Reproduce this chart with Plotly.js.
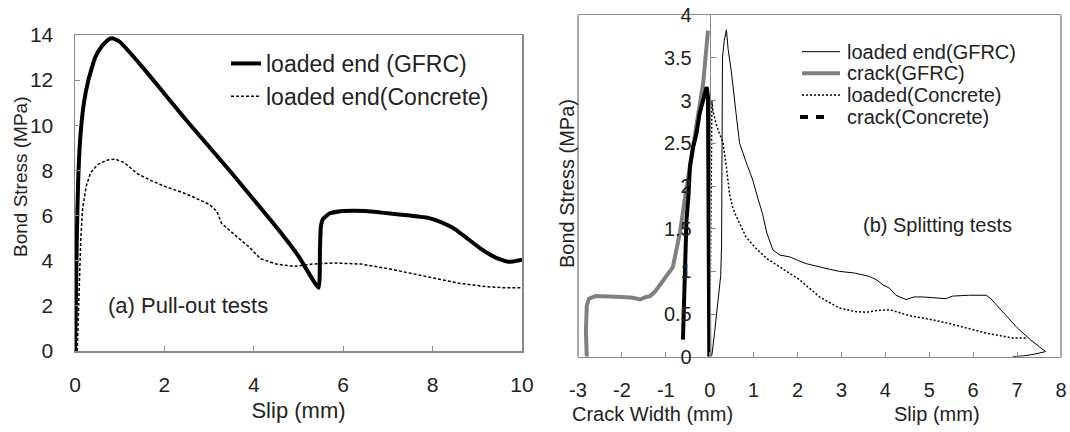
<!DOCTYPE html>
<html>
<head>
<meta charset="utf-8">
<script src="https://cdn.plot.ly/plotly-3.0.1.min.js"></script>
<style>html,body{margin:0;padding:0;background:#fff;}#chart{width:1070px;height:432px;}</style>
</head>
<body>
<div id="chart"></div>
<script>
// ---------- (a) Pull-out tests ----------
const pulloutGFRC_x = [0, 0.02, 0.04, 0.07, 0.12, 0.2, 0.3, 0.45, 0.6, 0.75, 0.85, 1.0, 1.5, 2.0, 2.5, 3.0, 3.5, 4.0, 4.5, 5.0, 5.45, 5.48, 5.5, 5.55, 5.7, 6.0, 6.5, 7.0, 7.5, 7.9, 8.2, 8.5, 8.8, 9.1, 9.4, 9.7, 10.0];
const pulloutGFRC_y = [0, 2, 5, 7.5, 9.5, 11, 12, 13, 13.5, 13.8, 13.85, 13.7, 12.6, 11.4, 10.2, 9.05, 7.9, 6.7, 5.5, 4.2, 2.8, 4.5, 5.5, 5.85, 6.1, 6.2, 6.2, 6.1, 6.0, 5.9, 5.7, 5.4, 4.95, 4.5, 4.15, 3.95, 4.05];

const pulloutConc_x = [0.05, 0.07, 0.1, 0.13, 0.17, 0.25, 0.35, 0.5, 0.7, 0.9, 1.1, 1.4, 1.7, 2.0, 2.5, 2.8, 3.0, 3.17, 3.28, 3.6, 3.9, 4.14, 4.5, 4.9, 5.3, 5.8, 6.4, 7.0, 7.5, 8.0, 8.6, 9.2, 9.6, 10.0];
const pulloutConc_y = [0, 1.5, 3, 5, 6.3, 7.3, 7.9, 8.25, 8.45, 8.5, 8.35, 7.85, 7.55, 7.3, 6.95, 6.7, 6.5, 6.2, 5.65, 5.1, 4.6, 4.1, 3.85, 3.75, 3.85, 3.9, 3.85, 3.65, 3.45, 3.25, 3.0, 2.85, 2.8, 2.8];

// ---------- (b) Splitting tests ----------
const splitLoadedGFRC_x = [0, 0.05, 0.11, 0.2, 0.25, 0.27, 0.28, 0.29, 0.33, 0.38, 0.42, 0.49, 0.6, 0.68, 0.85, 0.98, 1.1, 1.2, 1.3, 1.44, 1.6, 1.82, 2.0, 2.2, 2.6, 2.95, 3.3, 3.64, 3.8, 3.95, 4.1, 4.24, 4.47, 4.65, 4.84, 5.1, 5.38, 5.53, 5.9, 6.3, 6.4, 6.7, 7.0, 7.3, 7.65, 7.4, 7.15, 6.9];
const splitLoadedGFRC_y = [0, 0.02, 0.28, 0.7, 0.95, 1.3, 2.5, 3.5, 3.7, 3.83, 3.6, 3.35, 2.85, 2.5, 2.25, 2.07, 1.85, 1.68, 1.45, 1.25, 1.19, 1.17, 1.13, 1.09, 1.04, 1.0, 0.98, 0.94, 0.9, 0.84, 0.8, 0.72, 0.67, 0.7, 0.7, 0.69, 0.68, 0.71, 0.72, 0.72, 0.68, 0.51, 0.34, 0.2, 0.06, 0.03, 0.01, 0];

const splitCrackGFRC_x = [-2.8, -2.82, -2.8, -2.75, -2.6, -2.3, -2.0, -1.75, -1.59, -1.45, -1.36, -1.25, -1.14, -1.0, -0.84, -0.76, -0.68, -0.57, -0.48, -0.38, -0.26, -0.15, -0.04];
const splitCrackGFRC_y = [0, 0.3, 0.6, 0.68, 0.71, 0.71, 0.70, 0.69, 0.67, 0.7, 0.71, 0.76, 0.84, 0.94, 1.05, 1.25, 1.45, 1.84, 2.15, 2.5, 2.85, 3.2, 3.82];

const splitLoadedConc_x = [0, 0.02, 0.05, 0.07, 0.15, 0.23, 0.3, 0.38, 0.45, 0.52, 0.6, 0.83, 1.05, 1.3, 1.6, 2.05, 2.5, 2.95, 3.3, 3.56, 3.8, 4.1, 4.3, 4.55, 5.0, 5.45, 5.9, 6.36, 6.9, 7.2];
const splitLoadedConc_y = [0, 1.5, 3.0, 2.89, 2.72, 2.6, 2.52, 2.22, 1.91, 1.75, 1.65, 1.4, 1.27, 1.15, 1.05, 0.9, 0.7, 0.57, 0.53, 0.52, 0.54, 0.55, 0.52, 0.48, 0.44, 0.39, 0.33, 0.27, 0.22, 0.22];

const splitCrackConc_x = [-0.61, -0.58, -0.53, -0.49, -0.45, -0.38, -0.3, -0.23, -0.15, -0.07, -0.04, -0.03, -0.02, -0.01];
const splitCrackConc_y = [0.2, 0.9, 1.6, 1.84, 2.23, 2.45, 2.62, 2.85, 3.0, 3.16, 3.05, 2.0, 1.0, 0];

// ---------- labels ----------
const leftNames = ['loaded end (GFRC)', 'loaded end(Concrete)'];
const rightNames = ['loaded end(GFRC)', 'crack(GFRC)', 'loaded(Concrete)', 'crack(Concrete)'];
const rightXTickVals = [-3, -2, -1, 0, 1, 2, 3, 4, 5, 6, 7, 8];
const rightXTickText = ['-3', '-2', '-1', '0', '1', '2', '3', '4', '5', '6', '7', '8'];

const W = 1070, H = 432;
const px = v => v / W;
const py = v => 1 - v / H;
const AX = '#8a8a8a';
const TXT = '#222';
const FONT = 'Liberation Sans, Arial, sans-serif';

const traces = [
  {x: pulloutGFRC_x, y: pulloutGFRC_y, xaxis: 'x', yaxis: 'y', mode: 'lines', name: leftNames[0],
   line: {color: '#000', width: 4, shape: 'spline', smoothing: 0.4}, legend: 'legend'},
  {x: pulloutConc_x, y: pulloutConc_y, xaxis: 'x', yaxis: 'y', mode: 'lines', name: leftNames[1],
   line: {color: '#000', width: 1.5, dash: '3px,2px'}, legend: 'legend'},
  {x: splitLoadedGFRC_x, y: splitLoadedGFRC_y, xaxis: 'x2', yaxis: 'y2', mode: 'lines', name: rightNames[0],
   line: {color: '#000', width: 1}, showlegend: false},
  {x: splitCrackGFRC_x, y: splitCrackGFRC_y, xaxis: 'x2', yaxis: 'y2', mode: 'lines', name: rightNames[1],
   line: {color: '#808080', width: 4}, showlegend: false},
  {x: splitLoadedConc_x, y: splitLoadedConc_y, xaxis: 'x2', yaxis: 'y2', mode: 'lines', name: rightNames[2],
   line: {color: '#000', width: 1.5, dash: '2px,2px'}, showlegend: false},
  {x: splitCrackConc_x, y: splitCrackConc_y, xaxis: 'x2', yaxis: 'y2', mode: 'lines', name: rightNames[3],
   line: {color: '#000', width: 4}, showlegend: false}
];

const xL = [px(75), px(522)], yL = [py(351), py(35)];
const xR = [px(578), px(1061)], yR = [py(356.7), py(15.3)];
const yAxisPos = xR[0] + (0 - (-3)) / 11 * (xR[1] - xR[0]);

const layout = {
  width: W, height: H,
  margin: {l: 0, r: 0, t: 0, b: 0},
  paper_bgcolor: '#fff', plot_bgcolor: '#fff',
  font: {family: FONT, color: TXT},
  showlegend: true,
  legend: {x: px(226), y: py(42), xanchor: 'left', yanchor: 'top', bgcolor: 'rgba(0,0,0,0)',
           font: {size: 23, color: TXT}, tracegroupgap: 0},
  xaxis: {domain: xL, anchor: 'y', range: [0, 10], dtick: 2, ticks: 'inside', ticklen: 5, tickcolor: AX,
          showline: true, mirror: true, linecolor: AX, linewidth: 1.5, showgrid: false, zeroline: false,
          tickfont: {size: 21}, ticklabelstandoff: 14,
          title: {text: 'Slip (mm)', font: {size: 22}, standoff: 8}},
  yaxis: {domain: yL, anchor: 'x', range: [0, 14], dtick: 2, ticks: 'inside', ticklen: 5, tickcolor: AX,
          showline: true, mirror: true, linecolor: AX, linewidth: 1.5, showgrid: false, zeroline: false,
          tickfont: {size: 21}, ticklabelstandoff: 16},
  xaxis2: {domain: xR, anchor: 'y2', range: [-3, 8], tickmode: 'array', tickvals: rightXTickVals, ticktext: rightXTickText,
           ticks: 'inside', ticklen: 5, tickcolor: AX,
           showline: true, mirror: true, linecolor: AX, linewidth: 1.5, showgrid: false, zeroline: false,
           tickfont: {size: 20}, ticklabelstandoff: 15},
  yaxis2: {domain: yR, anchor: 'free', position: yAxisPos, range: [0, 4], dtick: 0.5, ticks: 'inside', ticklen: 5,
           tickcolor: AX, showline: true, linecolor: AX, linewidth: 1.5, showgrid: false, zeroline: false,
           tickfont: {size: 20}, ticklabelstandoff: 14},
  shapes: [
    {type: 'line', xref: 'x2 domain', yref: 'y2 domain', x0: 0, x1: 0, y0: 0, y1: 1, line: {color: AX, width: 1.5}, layer: 'below'},
    {type: 'line', xref: 'x2 domain', yref: 'y2 domain', x0: 1, x1: 1, y0: 0, y1: 1, line: {color: AX, width: 1.5}, layer: 'below'},
    // legend samples for (b)
    {type: 'line', xref: 'paper', yref: 'paper', x0: px(802), x1: px(840), y0: py(51.7), y1: py(51.7), line: {color: '#000', width: 1}},
    {type: 'line', xref: 'paper', yref: 'paper', x0: px(802), x1: px(840), y0: py(73.3), y1: py(73.3), line: {color: '#808080', width: 4}},
    {type: 'line', xref: 'paper', yref: 'paper', x0: px(802), x1: px(840), y0: py(95), y1: py(95), line: {color: '#000', width: 1.5, dash: '2px,2px'}},
    {type: 'line', xref: 'paper', yref: 'paper', x0: px(800), x1: px(824), y0: py(117), y1: py(117), line: {color: '#000', width: 4, dash: '8px,8px'}}
  ],
  annotations: [
    {xref: 'paper', yref: 'paper', x: px(20), y: py(177), text: 'Bond Stress (MPa)', textangle: -90, showarrow: false,
     font: {size: 19, color: TXT}, xanchor: 'center', yanchor: 'middle'},
    {xref: 'paper', yref: 'paper', x: px(188), y: py(305), text: '(a) Pull-out tests', showarrow: false,
     font: {size: 22, color: TXT}, xanchor: 'center', yanchor: 'middle'},
    {xref: 'paper', yref: 'paper', x: px(567), y: py(184), text: 'Bond Stress (MPa)', textangle: -90, showarrow: false,
     font: {size: 20, color: TXT}, xanchor: 'center', yanchor: 'middle'},
    {xref: 'paper', yref: 'paper', x: px(652), y: py(414), text: 'Crack Width (mm)', showarrow: false,
     font: {size: 20, color: TXT}, xanchor: 'center', yanchor: 'middle'},
    {xref: 'paper', yref: 'paper', x: px(937), y: py(414), text: 'Slip (mm)', showarrow: false,
     font: {size: 20, color: TXT}, xanchor: 'center', yanchor: 'middle'},
    {xref: 'paper', yref: 'paper', x: px(937), y: py(225), text: '(b) Splitting tests', showarrow: false,
     font: {size: 20, color: TXT}, xanchor: 'center', yanchor: 'middle'},
    {xref: 'paper', yref: 'paper', x: px(845), y: py(51.7), text: rightNames[0], showarrow: false,
     font: {size: 20, color: TXT}, xanchor: 'left', yanchor: 'middle'},
    {xref: 'paper', yref: 'paper', x: px(845), y: py(73.3), text: rightNames[1], showarrow: false,
     font: {size: 20, color: TXT}, xanchor: 'left', yanchor: 'middle'},
    {xref: 'paper', yref: 'paper', x: px(845), y: py(95), text: rightNames[2], showarrow: false,
     font: {size: 20, color: TXT}, xanchor: 'left', yanchor: 'middle'},
    {xref: 'paper', yref: 'paper', x: px(845), y: py(117), text: rightNames[3], showarrow: false,
     font: {size: 20, color: TXT}, xanchor: 'left', yanchor: 'middle'}
  ]
};

Plotly.newPlot('chart', traces, layout, {staticPlot: true, displayModeBar: false});
</script>
</body>
</html>
